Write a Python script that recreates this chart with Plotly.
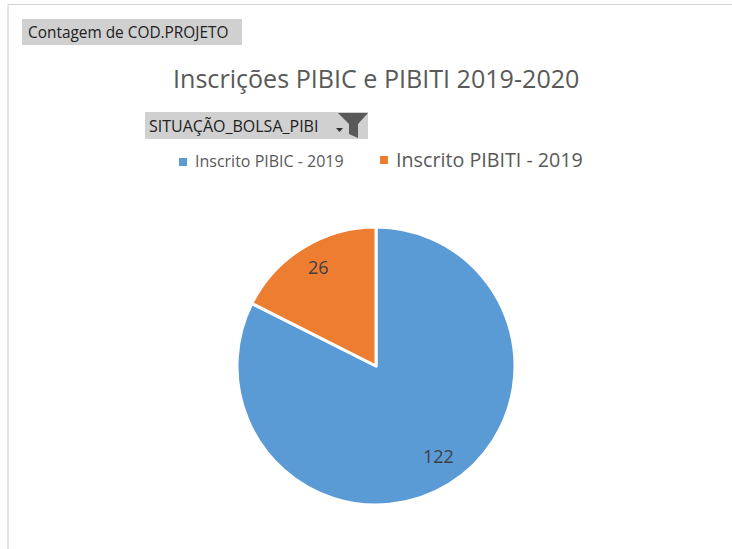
import plotly.graph_objects as go

labels = ["Inscrito PIBIC - 2019", "Inscrito PIBITI - 2019"]
values = [122, 26]
colors = ["#5B9BD5", "#ED7D31"]
title = "Inscrições PIBIC e PIBITI 2019-2020"
field_top = "Contagem de COD.PROJETO"
field_filter = "SITUAÇÃO_BOLSA_PIBI"

W, H = 732, 549
FONT = "Open Sans, Noto Sans, DejaVu Sans, sans-serif"

fig = go.Figure(go.Pie(
    labels=labels, values=values, sort=False, direction="clockwise", rotation=0,
    marker=dict(colors=colors, line=dict(color="white", width=3)),
    textinfo="none",
    domain=dict(x=[(376-139)/W, (376+139)/W], y=[1-505/H, 1-227/H]),
    showlegend=False, hoverinfo="label+value",
))

def rect(x0, y0, x1, y1, fill, line="rgba(0,0,0,0)"):
    fig.add_shape(type="rect", xref="paper", yref="paper", x0=x0/W, x1=x1/W,
                  y0=1-y0/H, y1=1-y1/H, fillcolor=fill, line=dict(color=line, width=1), layer="below")

def rule(x0, y0, x1, y1):
    fig.add_shape(type="line", xref="paper", yref="paper", x0=x0/W, x1=x1/W,
                  y0=1-y0/H, y1=1-y1/H, line=dict(color="#D4D4D4", width=1.2), layer="below")

def text(x, y, s, size, color="#404040", anchor="left"):
    fig.add_annotation(xref="paper", yref="paper", x=x/W, y=1-y/H, text=s, showarrow=False,
                       xanchor=anchor, yanchor="middle", font=dict(size=size, color=color, family=FONT))

rule(8, 4.5, 732, 4.5)
rule(8, 4.5, 8, 549)
rect(22, 19, 242, 45, "#D0D0D0")
rect(145, 112, 368, 139, "#D0D0D0")
text(26, 32, field_top, 15.4, "#222222")
text(147, 126, field_filter, 16, "#222222")
text(376, 78, title, 25.1, "#595959", "center")
text(193, 161, labels[0], 16, "#595959")
text(394, 159, labels[1], 19.7, "#595959")
text(318, 267, str(values[1]), 18, "#404040", "center")
text(438, 456, str(values[0]), 18, "#404040", "center")
rect(179, 158, 187, 166, colors[0])
rect(380, 156, 388, 164, colors[1])
fig.add_shape(type="path", xref="paper", yref="paper", fillcolor="#595959", line=dict(width=0),
              path=f"M {338/W} {1-113/H} L {368/W} {1-113/H} L {358/W} {1-124/H} L {358/W} {1-138/H} L {349/W} {1-134/H} L {349/W} {1-124/H} Z")
fig.add_shape(type="path", xref="paper", yref="paper", fillcolor="#333333", line=dict(width=0),
              path=f"M {336/W} {1-128/H} L {343/W} {1-128/H} L {339.5/W} {1-132/H} Z")

fig.update_layout(width=W, height=H, margin=dict(l=0, r=0, t=0, b=0),
                  paper_bgcolor="white", font=dict(family=FONT))
fig.write_html("out.html", config={"displayModeBar": False},
               post_script="document.body.style.margin='0';document.documentElement.style.overflow='hidden';")
